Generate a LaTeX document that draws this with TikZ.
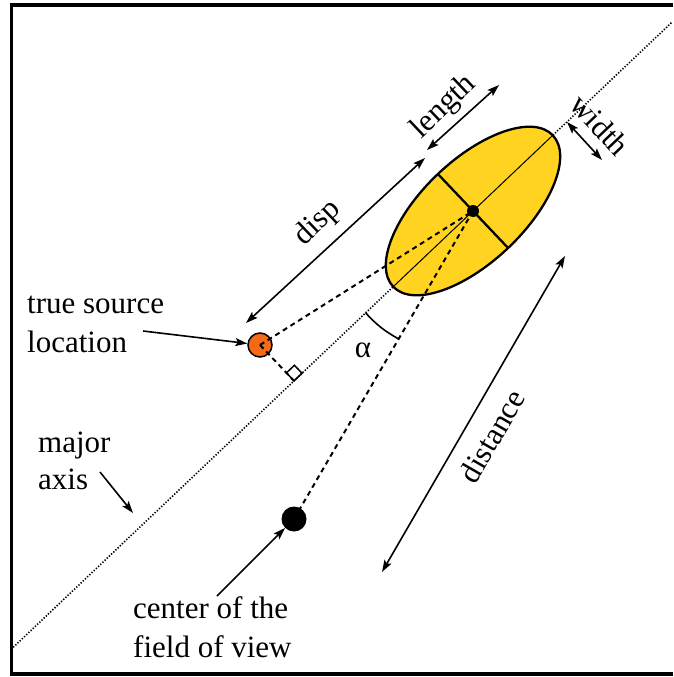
\documentclass[tikz,border=0pt]{standalone}
\usepackage{fontspec}
\setmainfont{Liberation Serif}
\usetikzlibrary{calc,arrows.meta,shapes.geometric}
\definecolor{gold}{RGB}{255,211,32}
\definecolor{srcorange}{RGB}{245,106,20}
\pgfdeclarelayer{background}
\pgfsetlayers{background,main}
\begin{document}
\begin{tikzpicture}[x=1pt,y=-1pt,
  lbl/.style={font=\fontsize{31}{37}\selectfont, inner sep=0pt},
  dimarrow/.style={line width=1.6pt, {Stealth[length=12pt,width=8pt,inset=2.5pt]}-{Stealth[length=12pt,width=8pt,inset=2.5pt]}},
  ptrarrow/.style={line width=1.6pt, -{Stealth[length=12pt,width=8pt,inset=2.5pt]}},
  dashline/.style={line width=2pt, dash pattern=on 5pt off 4pt},
  dotline/.style={line width=1.6pt, dash pattern=on 1.3pt off 1.7pt},
  thickline/.style={line width=2.3pt},
  ]
\useasboundingbox (0,0) rectangle (673,677);

% frame
\draw[line width=3.5pt] (673,5) -- (11.5,5) -- (11.5,674) -- (673,674);

% image ellipse
\node[ellipse, minimum width=220pt, minimum height=102pt, inner sep=0pt, outer sep=0pt,
      rotate=43.5, draw, thickline, fill=gold] (ell) at (473,211) {};

% major axis (dotted, behind the ellipse)
\coordinate (axUR) at ($(ell.west)!1.747!(ell.east)$);
\coordinate (axLL) at ($(ell.west)!-2.395!(ell.east)$);
\begin{pgfonlayer}{background}
  \draw[dotline] (axLL) -- (axUR);
\end{pgfonlayer}
\draw[line width=1pt] (ell.west) -- (ell.east);
\draw[thickline] (ell.north) -- (ell.south);

% true source
\node[circle, draw, line width=1.5pt, fill=srcorange, minimum size=24pt, inner sep=0pt] (src) at (260,345) {};
% field of view centre
\node[circle, fill=black, minimum size=25pt, inner sep=0pt] (fov) at (294,519) {};

% foot of perpendicular and right-angle mark
\coordinate (ft) at ($(ell.west)!(src.center)!(ell.east)$);
\coordinate (sqA) at ($(ft)!11pt!(src.center)$);
\coordinate (sqB) at ($(ft)!11pt!(ell.center)$);
\coordinate (sqC) at ($(sqA)+(sqB)-(ft)$);

% dashed lines
\draw[dashline] (src.center) -- (ell.center);
\draw[dashline] (src.center) -- (ft);
\draw[dashline] (ell.center) -- (fov.center);
\draw[line width=1.5pt] (ft) -- (sqA) -- (sqC) -- (sqB) -- cycle;

% centre dot
\node[circle, fill=black, minimum size=12pt, inner sep=0pt] (ctr) at (ell.center) {};

% alpha
\coordinate (alA) at ($(ell.center)!148pt!(axLL)$);
\coordinate (alB) at ($(ell.center)!148pt!(fov.center)$);
\draw[line width=1.6pt] (alA) to[bend right=9] (alB);
\node[lbl] (alpha) at (363,350) {α};

% dimension arrows
\coordinate (dispA) at (246,323); \coordinate (dispB) at (425,158);
\coordinate (lenA) at (427,150);  \coordinate (lenB) at (499,85);
\coordinate (widA) at (567,122);  \coordinate (widB) at (602,160);
\coordinate (distA) at (565,256); \coordinate (distB) at (382,572);
\draw[dimarrow] (dispA) -- (dispB);
\draw[dimarrow] (lenA) -- (lenB);
\draw[dimarrow] (widA) -- (widB);
\draw[dimarrow] (distA) -- (distB);
\node[lbl, rotate=43.5] (disp) at (318,223) {disp};
\node[lbl, rotate=43.5] (len) at (444,107) {length};
\node[lbl, rotate=-46.5] (wid) at (600,125) {width};
\node[lbl, rotate=60] (dist) at (492,436) {distance};

% pointer labels
\node[lbl, anchor=base west] (ts1) at (27,313) {true source};
\node[lbl, anchor=base west] (ts2) at (27,352) {location};
\node[lbl, anchor=base west] (ma1) at (38,452) {major};
\node[lbl, anchor=base west] (ma2) at (38,489) {axis};
\node[lbl, anchor=base west] (cf1) at (133,618) {center of the};
\node[lbl, anchor=base west] (cf2) at (133,657) {field of view};

\coordinate (tsP) at (143,331);
\coordinate (maP) at (100,472); \coordinate (maQ) at (133,513);
\coordinate (cfP) at (217,596);
\draw[ptrarrow] (tsP) -- (src);
\draw[ptrarrow] (maP) -- (maQ);
\draw[ptrarrow] (cfP) -- (fov);
\end{tikzpicture}
\end{document}
